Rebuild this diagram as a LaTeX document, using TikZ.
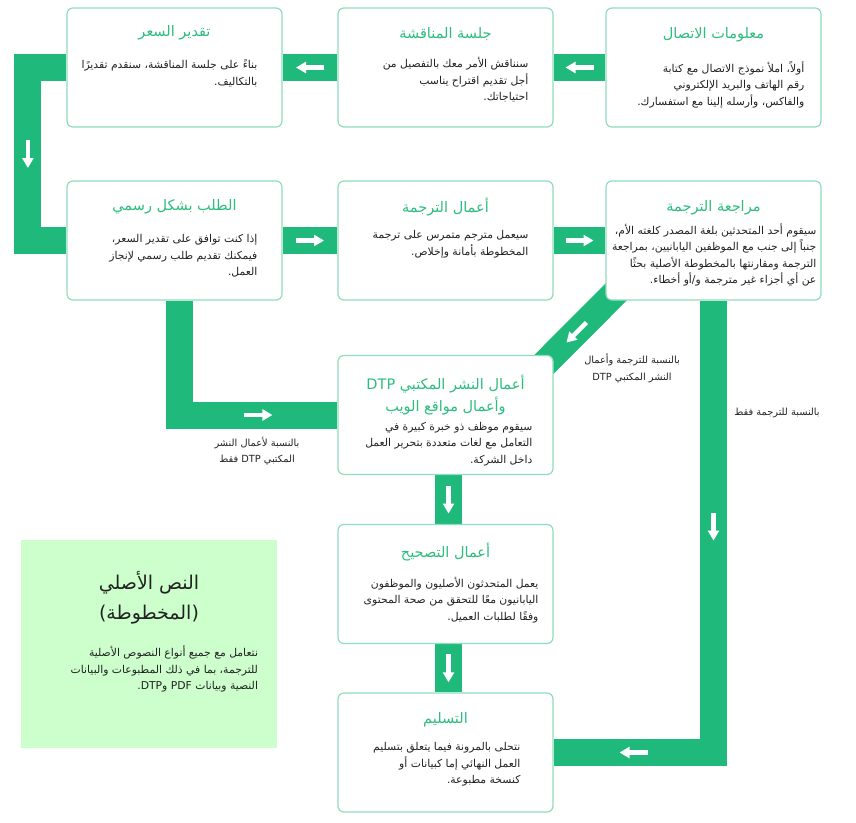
\documentclass[tikz,border=0pt]{standalone}
\usepackage{fontspec}
\usetikzlibrary{calc,arrows.meta,backgrounds}
\newfontfamily\arabicfont[Script=Arabic]{DejaVu Sans}
\TeXXeTstate=1
\newcommand{\rtlline}[1]{\beginR#1\endR}
\newcommand{\ltrword}[1]{\beginL#1\endL{}}

\definecolor{bandgreen}{HTML}{1FB97B}
\definecolor{boxline}{HTML}{8FDDBB}
\definecolor{headgreen}{HTML}{2DBD7E}
\definecolor{notefill}{HTML}{CCFFCC}
\definecolor{bodygray}{HTML}{222222}

\tikzset{
    stage/.style = {
        draw=boxline,
        line width=1.2pt,
        rounded corners=6pt,
        fill=white,
        minimum width=215pt,
        minimum height=119pt
    },
    heading/.style = {
        text=headgreen,
        font=\arabicfont\fontsize{14.5}{22}\selectfont,
        align=center
    },
    body/.style = {
        text=bodygray,
        font=\arabicfont\fontsize{10.8}{16.5}\selectfont,
        align=right,
        inner sep=0pt,
        anchor=north east
    },
    remark/.style = {
        text=bodygray,
        font=\arabicfont\fontsize{9.8}{16.5}\selectfont,
        align=center,
        inner sep=0pt
    },
    notebox/.style = {
        fill=notefill,
        minimum width=256pt,
        minimum height=208pt
    },
    notetitle/.style = {
        text=bodygray,
        font=\arabicfont\fontsize{19}{30}\selectfont,
        align=center
    },
    band/.style = {
        draw=bandgreen,
        line width=27pt
    },
    flow/.style = {
        draw=white,
        line width=4.5pt,
        -{Triangle[width=11pt,length=10pt]}
    }
}

\begin{document}
\begin{tikzpicture}[x=1pt,y=-1pt]
    \useasboundingbox (0,0) rectangle (856,822);

    % Draw all stages
    \node[stage] (info)   at (713.5,67.5)  {};
    \node[stage] (meet)   at (445.5,67.5)  {};
    \node[stage] (price)  at (174.5,67.5)  {};
    \node[stage] (order)  at (174.5,240.5) {};
    \node[stage] (trans)  at (445.5,240.5) {};
    \node[stage] (review) at (713.5,240.5) {};
    \node[stage] (dtp)    at (445.5,415)   {};
    \node[stage] (proof)  at (445.5,584)   {};
    \node[stage] (deliv)  at (445.5,752.5) {};
    \node[notebox] (source) at (149,644) {};

    % Draw headings
    \node[heading] (info-t)   at ($(info.north)+(0,27)$)   {\rtlline{معلومات الاتصال}};
    \node[heading] (meet-t)   at ($(meet.north)+(0,27)$)   {\rtlline{جلسة المناقشة}};
    \node[heading] (price-t)  at ($(price.north)+(0,25)$)  {\rtlline{تقدير السعر}};
    \node[heading] (order-t)  at ($(order.north)+(0,26)$)  {\rtlline{الطلب بشكل رسمي}};
    \node[heading] (trans-t)  at ($(trans.north)+(0,27)$)  {\rtlline{أعمال الترجمة}};
    \node[heading] (review-t) at ($(review.north)+(0,27)$) {\rtlline{مراجعة الترجمة}};
    \node[heading] (dtp-t)    at ($(dtp.north)+(0,40)$)    {\rtlline{أعمال النشر المكتبي \ltrword{DTP}}\\ \rtlline{وأعمال مواقع الويب}};
    \node[heading] (proof-t)  at ($(proof.north)+(0,28)$)  {\rtlline{أعمال التصحيح}};
    \node[heading] (deliv-t)  at ($(deliv.north)+(0,27)$)  {\rtlline{التسليم}};
    \node[notetitle] (source-t) at ($(source.north)+(0,58)$) {\rtlline{النص الأصلي}\\ \rtlline{(المخطوطة)}};

    % Draw body texts
    \node[body] (info-b) at ($(info.north east)+(-17,54)$) {%
        \rtlline{أولاً، املأ نموذج الاتصال مع كتابة}\\
        \rtlline{رقم الهاتف والبريد الإلكتروني}\\
        \rtlline{والفاكس، وأرسله إلينا مع استفسارك.}};
    \node[body] (meet-b) at ($(meet.north east)+(-25,50)$) {%
        \rtlline{سنناقش الأمر معك بالتفصيل من}\\
        \rtlline{أجل تقديم اقتراح يناسب}\\
        \rtlline{احتياجاتك.}};
    \node[body] (price-b) at ($(price.north east)+(-25,52)$) {%
        \rtlline{بناءً على جلسة المناقشة، سنقدم تقديرًا}\\
        \rtlline{بالتكاليف.}};
    \node[body] (order-b) at ($(order.north east)+(-25,54)$) {%
        \rtlline{إذا كنت توافق على تقدير السعر،}\\
        \rtlline{فيمكنك تقديم طلب رسمي لإنجاز}\\
        \rtlline{العمل.}};
    \node[body] (trans-b) at ($(trans.north east)+(-25,50)$) {%
        \rtlline{سيعمل مترجم متمرس على ترجمة}\\
        \rtlline{المخطوطة بأمانة وإخلاص.}};
    \node[body] (review-b) at ($(review.north east)+(-5,43)$) {%
        \rtlline{سيقوم أحد المتحدثين بلغة المصدر كلغته الأم،}\\
        \rtlline{جنباً إلى جنب مع الموظفين اليابانيين، بمراجعة}\\
        \rtlline{الترجمة ومقارنتها بالمخطوطة الأصلية بحثًا}\\
        \rtlline{عن أي أجزاء غير مترجمة و/أو أخطاء.}};
    \node[body] (dtp-b) at ($(dtp.north east)+(-21,67)$) {%
        \rtlline{سيقوم موظف ذو خبرة كبيرة في}\\
        \rtlline{التعامل مع لغات متعددة بتحرير العمل}\\
        \rtlline{داخل الشركة.}};
    \node[body] (proof-b) at ($(proof.north east)+(-15,53)$) {%
        \rtlline{يعمل المتحدثون الأصليون والموظفون}\\
        \rtlline{اليابانيون معًا للتحقق من صحة المحتوى}\\
        \rtlline{وفقًا لطلبات العميل.}};
    \node[body] (deliv-b) at ($(deliv.north east)+(-33,50)$) {%
        \rtlline{نتحلى بالمرونة فيما يتعلق بتسليم}\\
        \rtlline{العمل النهائي إما كبيانات أو}\\
        \rtlline{كنسخة مطبوعة.}};
    \node[body] (source-b) at ($(source.north east)+(-19,106)$) {%
        \rtlline{نتعامل مع جميع أنواع النصوص الأصلية}\\
        \rtlline{للترجمة، بما في ذلك المطبوعات والبيانات}\\
        \rtlline{النصية وبيانات \ltrword{PDF} و\ltrword{DTP}.}};

    % Draw bend points
    \coordinate (bend-price) at ($(price.west)+(-38.5,0)$);
    \coordinate (bend-order) at ($(order.south)+(5,0)$);

    % Draw bands behind the stages
    \begin{scope}[on background layer]
        \draw[band] (info.west) -- (meet.east);
        \draw[band] (meet.west) -- (price.east);
        \draw[band] (price.west) -- (bend-price) |- (order.west);
        \draw[band] (order.east) -- (trans.west);
        \draw[band] (trans.east) -- (review.west);
        \draw[band] ($(review.south west)+(32,-30)$) -- ($(dtp.north east)+(-45,45)$);
        \draw[band] (bend-order) |- (dtp.west);
        \draw[band] (review.south) |- (deliv.east);
        \draw[band] ([xshift=3pt]dtp.south) -- ([xshift=3pt]proof.north);
        \draw[band] ([xshift=3pt]proof.south) -- ([xshift=3pt]deliv.north);
    \end{scope}

    % Draw white arrows
    \draw[flow] ($(info.west)!0.5!(meet.east)+(14,0)$) -- ++(-28,0);
    \draw[flow] ($(meet.west)!0.5!(price.east)+(14,0)$) -- ++(-28,0);
    \draw[flow] ($(bend-price)!0.5!(bend-price |- order.west)+(0,-14)$) -- ++(0,28);
    \draw[flow] ($(order.east)!0.5!(trans.west)+(-14,0)$) -- ++(28,0);
    \draw[flow] ($(trans.east)!0.5!(review.west)+(-14,0)$) -- ++(28,0);
    \draw[flow] ($(review.south west)+(-19,22)$) -- ++(-20,20);
    \draw[flow] ($(bend-order |- dtp.west)!0.5!(dtp.west)+(-14,0)$) -- ++(28,0);
    \draw[flow] ($(review.south)!0.5!(review.south |- deliv.east)+(0,-14)$) -- ++(0,28);
    \draw[flow] ($(review.south |- deliv.east)!0.5!(deliv.east)+(14,0)$) -- ++(-28,0);
    \draw[flow] ($([xshift=3pt]dtp.south)!0.5!([xshift=3pt]proof.north)+(0,-14)$) -- ++(0,28);
    \draw[flow] ($([xshift=3pt]proof.south)!0.5!([xshift=3pt]deliv.north)+(0,-14)$) -- ++(0,28);

    % Draw labels
    \node[remark] (dtp-only)   at (257,451)   {\rtlline{بالنسبة لأعمال النشر}\\ \rtlline{المكتبي \ltrword{DTP} فقط}};
    \node[remark] (both-paths) at (632,368.5) {\rtlline{بالنسبة للترجمة وأعمال}\\ \rtlline{النشر المكتبي \ltrword{DTP}}};
    \node[remark] (trans-only) at (777,413)   {\rtlline{بالنسبة للترجمة فقط}};
\end{tikzpicture}
\end{document}
